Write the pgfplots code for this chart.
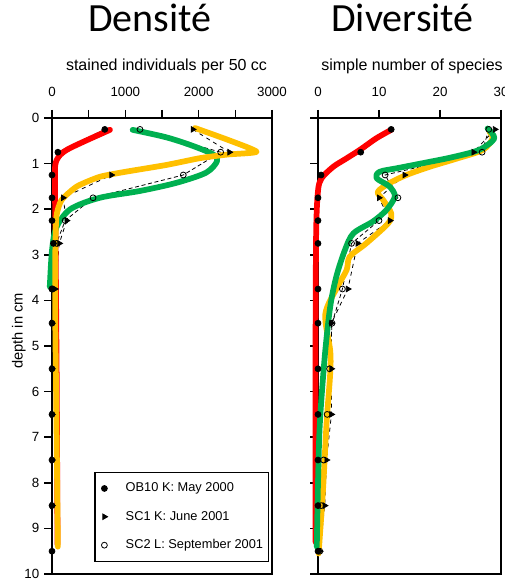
\documentclass[border=0pt]{standalone}
\usepackage{pgfplots}
\pgfplotsset{compat=1.18}
\usepackage{fontspec}
\setmainfont{Liberation Sans}
\newfontfamily\calibri{Carlito}
\definecolor{cred}{RGB}{255,0,0}
\definecolor{cyel}{RGB}{255,192,0}
\definecolor{cgrn}{RGB}{0,176,80}
\pgfplotsset{
  panel/.style={
    scale only axis, height=342pt,
    y dir=reverse, ymin=0, ymax=10,
    ytick={0,...,10},
    tick align=outside,
    xtick pos=upper, ytick pos=left,
    xticklabel pos=upper,
    major tick length=6pt,
    axis line style={line width=1.2pt, black},
    every tick/.style={black, line width=1.1pt},
    tick label style={font=\fontsize{10}{12}\selectfont},
    xticklabel style={yshift=6.5pt},
    /pgf/number format/assume math mode=true,
    clip=false,
  },
  datline/.style={black, line width=0.6pt, forget plot},
  col/.style={line width=4.3pt, line cap=round, line join=round, smooth, tension=0.5, forget plot},
}
\begin{document}
\begin{tikzpicture}[x=1pt,y=1pt]
% ---------------- Densite ----------------
\begin{axis}[panel, at={(39pt,5.25pt)}, anchor=south west, width=165pt,
  xmin=0, xmax=3000, xtick={0,500,...,3000},
  xticklabels={0,,1000,,2000,,3000},
  scaled x ticks=false,
  legend style={at={(axis cs:2960,9.74)}, anchor=south east, draw=black, line width=1pt,
    font=\fontsize{9.6}{11}\selectfont, inner xsep=2pt, inner ysep=6pt, row sep=9pt},
  legend cell align=left,
]
\addplot[datline, mark=*, mark size=2.2pt, mark options={solid,fill=black}] coordinates {
(720,0.25) (80,0.75) (0,1.25) (0,1.75) (0,2.25) (20,2.75) (0,3.75) (0,4.5) (0,5.5) (0,6.5) (0,7.5) (0,8.5) (0,9.5)};
\addplot[datline, dashed, mark=triangle*, mark size=2.4pt, mark options={solid,rotate=-90,fill=black}] coordinates {
(1920,0.25) (2420,0.75) (810,1.25) (150,1.75) (200,2.25) (100,2.75) (40,3.75) (0,4.5) (0,5.5) (0,6.5) (0,7.5) (0,8.5)};
\addplot[datline, densely dashed, mark=o, mark size=2.2pt, mark options={solid,fill=white}] coordinates {
(1200,0.25) (2300,0.75) (1790,1.25) (560,1.75) (180,2.25) (60,2.75) (0,3.75)};
% coloured overlays
\addplot[col, cred] coordinates {
(790,0.26) (430,0.52) (200,0.70) (90,0.85) (45,1.03) (40,1.43) (50,3) (65,6) (75,9.35)};
\addplot[col, cgrn] coordinates {
(1100,0.26) (1550,0.42) (1900,0.6) (2200,0.8) (2250,0.95) (2100,1.2) (1700,1.42) (1200,1.6) (650,1.75) (250,2.0) (60,2.4) (0,2.9) (-30,3.7)};
\addplot[col, cyel, tension=0.35] coordinates {
(1950,0.22) (2400,0.48) (2790,0.74) (2400,0.8) (2020,0.88) (1560,1.03) (1000,1.18) (650,1.29) (340,1.5) (130,1.8) (60,2.16) (45,3) (45,4.5) (60,6.5) (80,9.4)};
\addlegendimage{legend image code/.code={\draw[black,fill=black,solid,line width=0.6pt] plot[only marks, mark=*, mark size=2.2pt] coordinates {(5pt,0pt)}; \path[draw=none] (0pt,0pt) -- (19pt,0pt);}}
\addlegendentry{OB10 K: May 2000}
\addlegendimage{legend image code/.code={\draw[black,fill=black,solid,line width=0.6pt] plot[only marks, mark=triangle*, mark size=2.4pt, mark options={rotate=-90}] coordinates {(5pt,0pt)}; \path[draw=none] (0pt,0pt) -- (19pt,0pt);}}
\addlegendentry{SC1 K: June 2001}
\addlegendimage{legend image code/.code={\draw[black,fill=white,solid,line width=0.6pt] plot[only marks, mark=o, mark size=2.2pt] coordinates {(5pt,0pt)}; \path[draw=none] (0pt,0pt) -- (19pt,0pt);}}
\addlegendentry{SC2 L: September 2001}
\end{axis}
% ---------------- Diversite ----------------
\begin{axis}[panel, at={(238.5pt,5.25pt)}, anchor=south west, width=137.25pt,
  xmin=0, xmax=30, xtick={0,10,20,30},
  yticklabels={},
]
\addplot[datline, mark=*, mark size=2.2pt, mark options={solid,fill=black}] coordinates {
(12,0.25) (7,0.75) (0.5,1.25) (0,1.75) (0,2.25) (0,2.75) (0,3.75) (0,4.5) (0,5.5) (0,6.5) (0,7.5) (0,8.5) (0,9.5)};
\addplot[datline, dashed, mark=triangle*, mark size=2.4pt, mark options={solid,rotate=-90,fill=black}] coordinates {
(29,0.25) (25.5,0.75) (14.2,1.25) (10,1.75) (11.8,2.25) (6.5,2.75) (4.9,3.75) (2.2,4.5) (2.2,5.5) (2.2,6.5) (1.4,7.5) (1.1,8.5) (0.3,9.5)};
\addplot[datline, densely dashed, mark=o, mark size=2.2pt, mark options={solid,fill=white}] coordinates {
(28,0.25) (26.9,0.75) (11,1.25) (13.1,1.75) (10,2.25) (5.5,2.75) (4,3.75) (2.3,4.5) (1.9,5.5) (1.5,6.5) (0.9,7.5) (0.5,8.5) (0.3,9.5)};
\addplot[col, cred] coordinates {
(12,0.26) (9.5,0.45) (6.85,0.70) (4.5,0.9) (2.5,1.07) (0.6,1.32) (0,1.6) (-0.3,2.5) (-0.4,5) (-0.4,9.3)};
\addplot[col, cyel] coordinates {
(28.1,0.3) (28.6,0.45) (27,0.7) (22.5,0.9) (18.3,1.07) (14.5,1.25) (11.7,1.43) (9.8,1.62) (10.7,1.8) (12,2.09) (11.5,2.31) (7.9,2.75) (5.2,3.04) (4.7,3.33) (3.2,3.7) (1.2,4.3) (2.0,5.1) (2.0,5.6) (1.4,6.7) (0.8,8.2) (0.1,9.55)};
\addplot[col, cgrn] coordinates {
(27.8,0.23) (28.9,0.45) (26.4,0.70) (22,0.86) (17.2,0.99) (13,1.1) (10.1,1.18) (9.6,1.32) (11.7,1.5) (12.6,1.72) (11.2,2.02) (9.0,2.27) (5.8,2.53) (4.4,2.9) (3.0,3.48) (2.0,4.14) (1.1,5.24) (0.3,6.7) (0,8) (-0.2,9.4)};
\end{axis}
% titles and labels
\node[anchor=base, font=\calibri\fontsize{30}{36}\selectfont] at (112.5pt,412pt) {Densité};
\node[anchor=base, font=\calibri\fontsize{30}{36}\selectfont] at (301.9pt,412pt) {Diversité};
\node[anchor=base, font=\fontsize{12}{14}\selectfont] at (124.9pt,382.5pt) {stained individuals per 50 cc};
\node[anchor=base, font=\fontsize{12}{14}\selectfont] at (309pt,382.5pt) {simple number of species};
\node[anchor=base, rotate=90, font=\fontsize{11}{13}\selectfont] at (16.9pt,187.5pt) {depth in cm};
\pgfresetboundingbox
\useasboundingbox (0pt,0pt) rectangle (378pt,435.75pt);
\end{tikzpicture}
\end{document}
